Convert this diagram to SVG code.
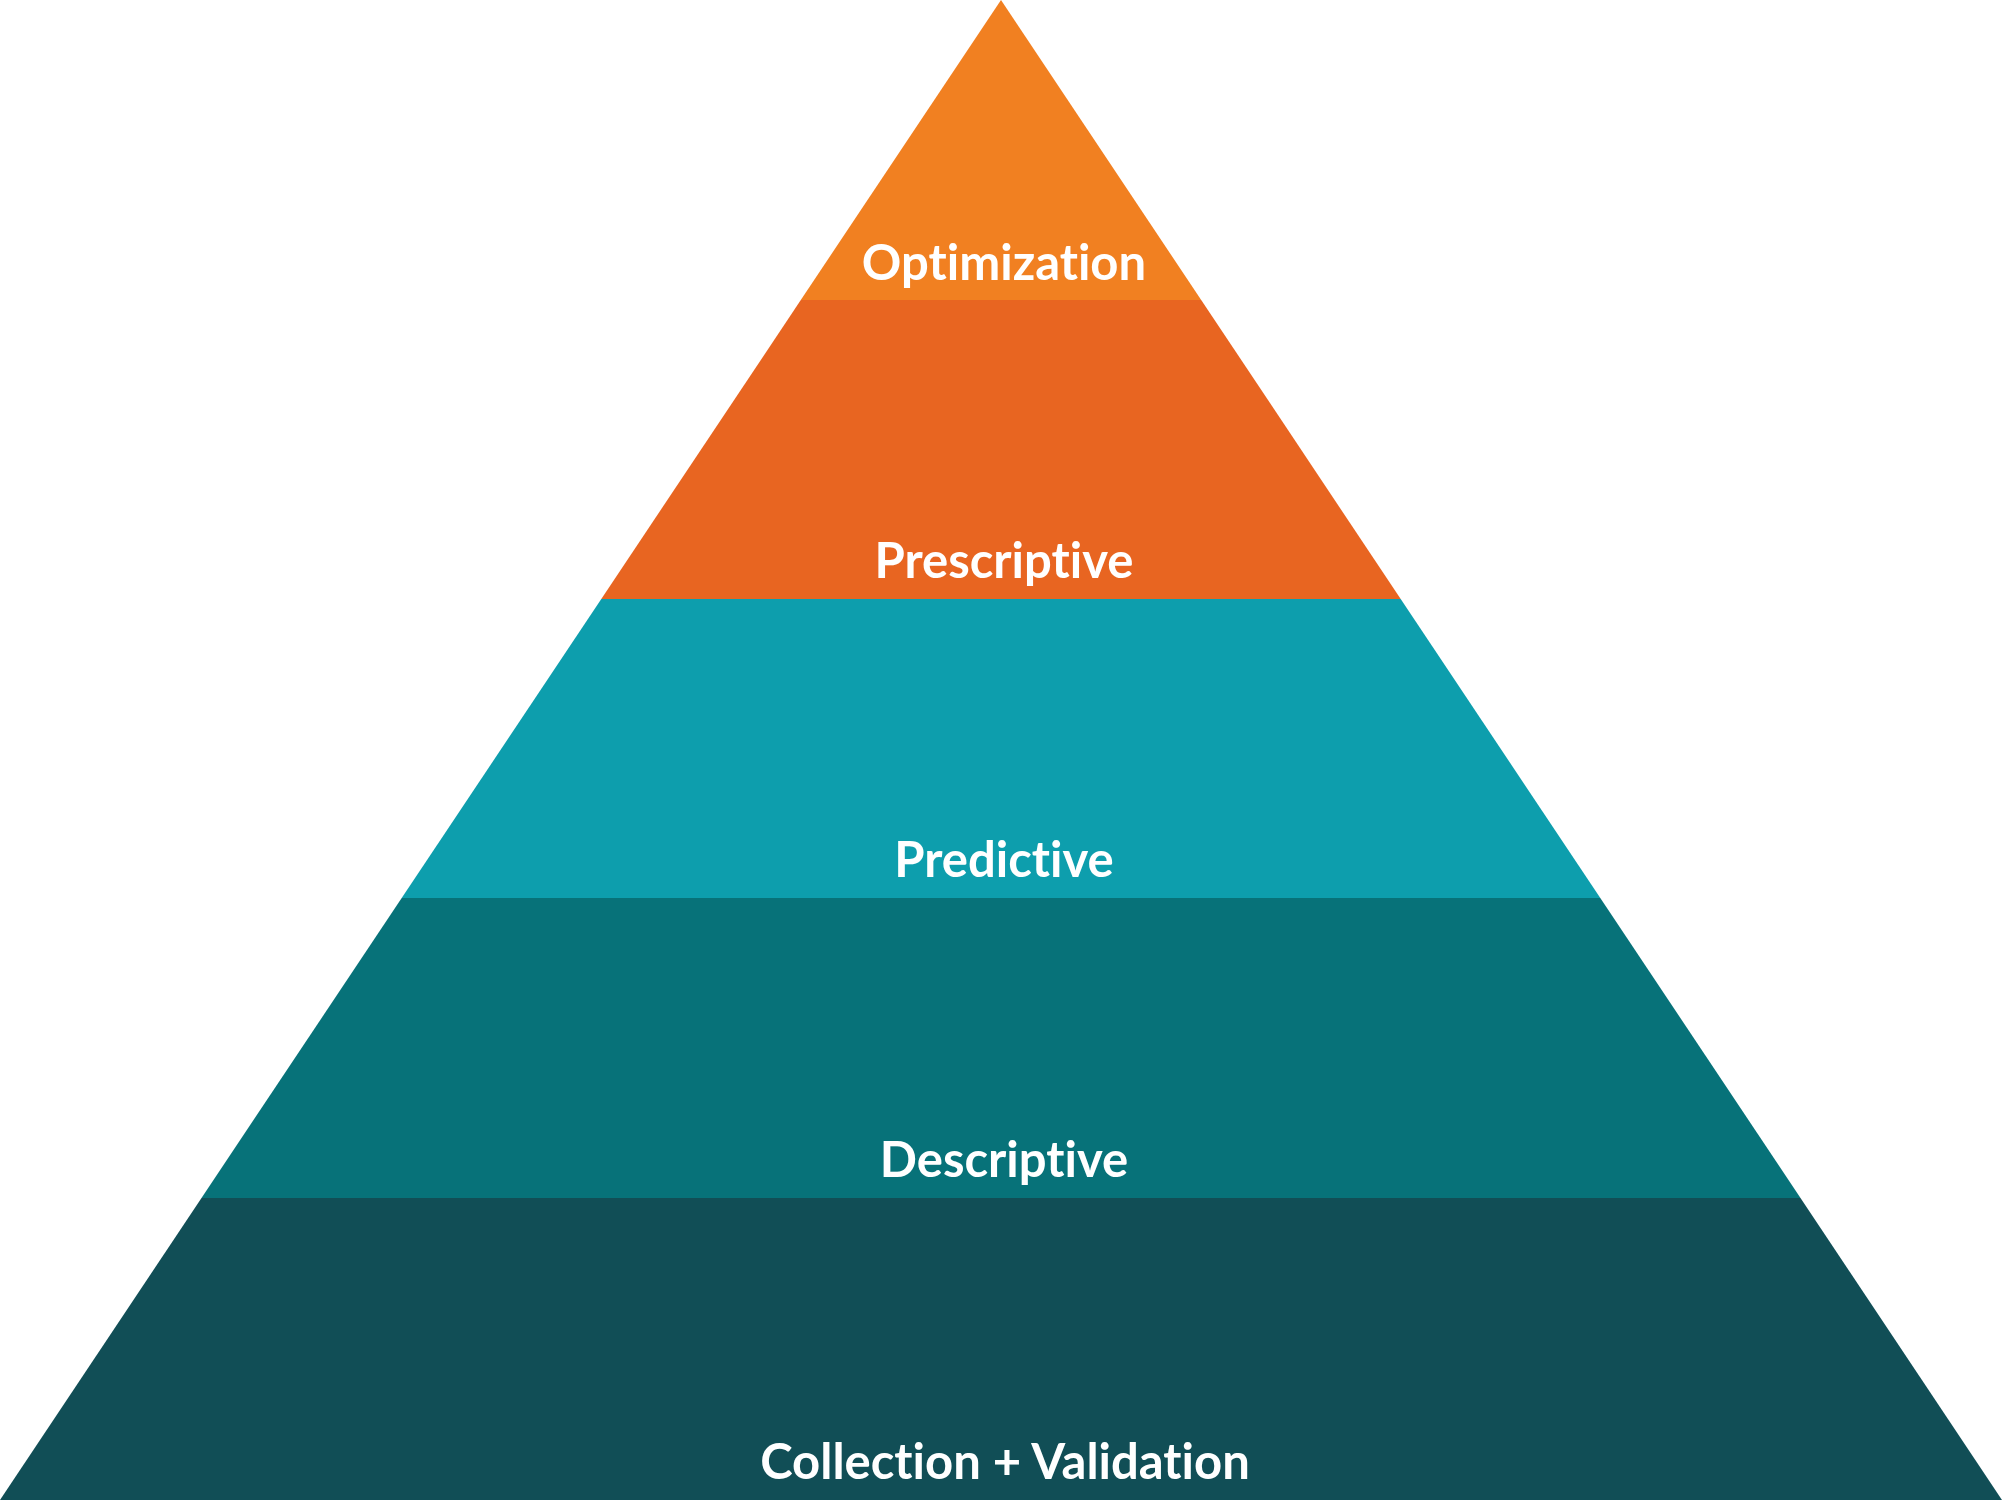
<svg xmlns="http://www.w3.org/2000/svg" width="2002" height="1500" viewBox="0 0 2002 1500">
<style>
.lbl{font-family:Lato,"Liberation Sans",sans-serif;font-weight:700;font-size:49px;fill:#ffffff;text-anchor:middle;font-variant-ligatures:none;font-feature-settings:"liga" 0,"clig" 0,"dlig" 0}
</style>
<rect width="2002" height="1500" fill="#ffffff"/>
<g id="tier-optimization">
<polygon points="1001,0 1201.2,300 800.8,300" fill="#F18021"/>
<text class="lbl" x="1004" y="280">Optimization</text>
</g>
<g id="tier-prescriptive">
<polygon points="800.8,300 1201.2,300 1400.7,599 601.3,599" fill="#E86521"/>
<text class="lbl" x="1004" y="578">Prescriptive</text>
</g>
<g id="tier-predictive">
<polygon points="601.3,599 1400.7,599 1600.3,898 401.7,898" fill="#0D9EAD"/>
<text class="lbl" x="1004" y="877">Predictive</text>
</g>
<g id="tier-descriptive">
<polygon points="401.7,898 1600.3,898 1800.5,1198 201.5,1198" fill="#077279"/>
<text class="lbl" x="1004" y="1177">Descriptive</text>
</g>
<g id="tier-collection">
<polygon points="201.5,1198 1800.5,1198 2002,1500 0,1500" fill="#114E56"/>
<text class="lbl" x="1005" y="1479">Collection + Validation</text>
</g>
<g id="connectors"/>
</svg>
